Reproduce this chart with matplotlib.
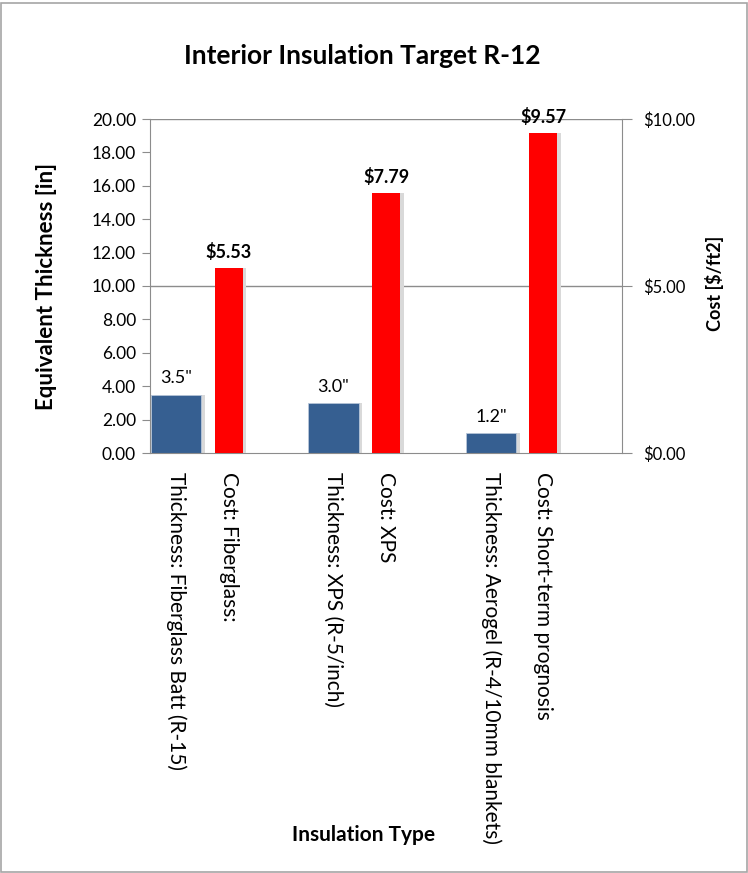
import matplotlib
matplotlib.use("Agg")
import matplotlib.pyplot as plt
from matplotlib.patches import Rectangle
from matplotlib.ticker import FuncFormatter

categories = [
    "Thickness: Fiberglass Batt (R-15)",
    "Cost: Fiberglass:",
    "",
    "Thickness: XPS (R-5/inch)",
    "Cost: XPS",
    "",
    "Thickness: Aerogel (R-4/10mm blankets)",
    "Cost: Short-term prognosis",
    "",
]
thickness_idx = [0, 3, 6]
thickness_in = [3.5, 3.0, 1.2]
cost_idx = [1, 4, 7]
cost_per_ft2 = [5.53, 7.79, 9.57]

BLUE = "#365F91"
RED = "#FF0000"
SHADOW = "#D9D9D9"
GRID = "#8C8C8C"

plt.rcParams["font.family"] = ["Lato", "DejaVu Sans"]

fig = plt.figure(figsize=(7.48, 8.73), dpi=100)
ax = fig.add_axes([150 / 748, 1 - 453 / 873, 472 / 748, 334 / 873])
ax2 = ax.twinx()

# thickness bars (primary axis) with a soft drop shadow
ax.bar([i + 0.07 for i in thickness_idx], thickness_in, width=0.96,
       color=SHADOW, zorder=1)
ax.bar(thickness_idx, thickness_in, width=0.96, color=BLUE,
       edgecolor="#B8C7DA", linewidth=0.6, zorder=2)
for i, v in zip(thickness_idx, thickness_in):
    ax.annotate(f'{v:.1f}"', (i, v), xytext=(0, 6), textcoords="offset points",
                ha="center", va="bottom", fontsize=13)

# cost bars (secondary axis)
ax2.bar([i + 0.07 for i in cost_idx], cost_per_ft2, width=0.53,
        color=SHADOW, zorder=1)
ax2.bar(cost_idx, cost_per_ft2, width=0.53, color=RED, zorder=2)
for i, v in zip(cost_idx, cost_per_ft2):
    ax2.annotate(f"${v:.2f}", (i, v), xytext=(0, 5), textcoords="offset points",
                 ha="center", va="bottom", fontsize=13, fontweight="bold")

ax.set_xlim(-0.5, len(categories) - 0.5)
ax.set_ylim(0, 20)
ax.set_yticks(range(0, 21, 2))
ax.yaxis.set_major_formatter(FuncFormatter(lambda v, _: f"{v:.2f}"))
ax2.set_ylim(0, 10)
ax2.set_yticks([0, 5, 10])
ax2.yaxis.set_major_formatter(FuncFormatter(lambda v, _: f"${v:.2f}"))

ax.set_xticks(range(len(categories)))
ax.set_xticklabels(categories, rotation=-90, fontsize=15, va="top", ha="center")
ax.tick_params(axis="x", length=0, pad=14)
ax.tick_params(axis="y", length=6, color=GRID, labelsize=12.5, pad=4)
ax2.tick_params(axis="y", length=7, color=GRID, labelsize=12, pad=8)

for a in (ax, ax2):
    for side in ("top", "right", "left", "bottom"):
        a.spines[side].set_visible(False)
ax.spines["left"].set_visible(True)
ax.spines["left"].set_color(GRID)
ax.spines["bottom"].set_visible(True)
ax.spines["bottom"].set_color(GRID)
ax2.spines["right"].set_visible(True)
ax2.spines["right"].set_color(GRID)

for y in (10, 20):
    ax.axhline(y, color=GRID, linewidth=1, zorder=0)

fig.text(362 / 748, 1 - 56 / 873, "Interior Insulation Target R-12",
         ha="center", va="center", fontsize=19, fontweight="bold")
fig.text(47 / 748, 1 - 286 / 873, "Equivalent Thickness [in]", rotation=90,
         ha="center", va="center", fontsize=16, fontweight="bold")
fig.text(715 / 748, 1 - 283 / 873, "Cost [$/ft2]", rotation=90,
         ha="center", va="center", fontsize=13, fontweight="bold")
fig.text(364 / 748, 1 - 835 / 873, "Insulation Type",
         ha="center", va="center", fontsize=15, fontweight="bold")

fig.patches.append(Rectangle((0.001, 0.001), 0.998, 0.996, transform=fig.transFigure,
                             fill=False, edgecolor="#A6A6A6", linewidth=1.2))

fig.savefig("out.png", dpi=100)
